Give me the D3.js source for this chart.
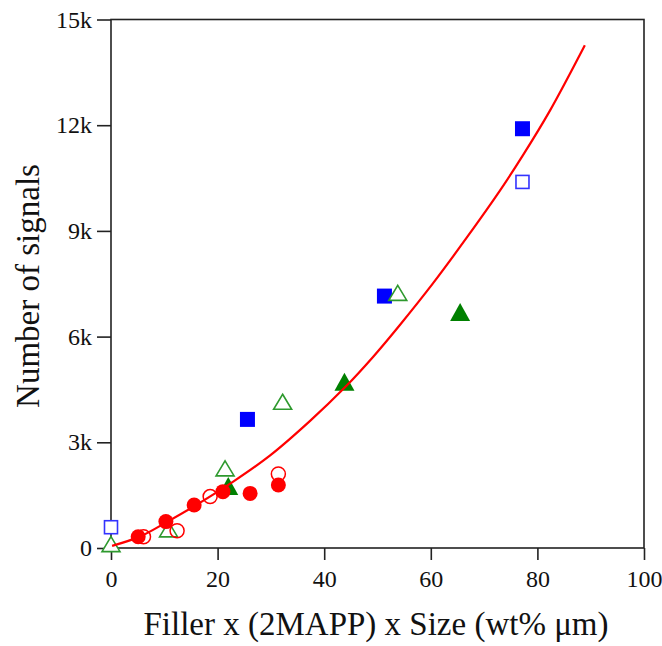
<!DOCTYPE html>
<html>
<head>
<meta charset="utf-8">
<script src="https://cdn.jsdelivr.net/npm/d3@7"></script>
<style>
  body { margin: 0; background: #fff; }
  text { font-family: "Liberation Serif", "Times New Roman", serif; }
</style>
</head>
<body>
<div id="viz"></div>
<script>
// data
var redFilledX = [5.1, 10.3, 15.6, 21.0, 26.1, 31.4];
var redFilledY = [320, 750, 1220, 1600, 1550, 1790];
var redOpenX = [6.1, 12.4, 18.6, 31.4];
var redOpenY = [320, 490, 1460, 2100];
var greenOpenX = [0, 10.8, 21.4, 32.2, 53.8];
var greenOpenY = [110, 530, 2260, 4150, 7240];
var greenFilledX = [22.0, 43.8, 65.5];
var greenFilledY = [1760, 4720, 6700];
var blueFilledX = [25.6, 51.3, 77.2];
var blueFilledY = [3650, 7150, 11900];
var blueOpenX = [0, 77.2];
var blueOpenY = [590, 10390];
var fitX = [0.2, 5.5, 10.5, 16.1, 23.0, 29.8, 37.3, 43.9, 49.2, 54.2, 60.4, 66.7, 73.0, 77.3, 82.3, 88.9];
var fitY = [60, 330, 740, 1230, 1890, 2620, 3600, 4560, 5430, 6330, 7510, 8800, 10150, 11150, 12400, 14270];
var xTicks = [0, 20, 40, 60, 80, 100];
var yTicks = [0, 3000, 6000, 9000, 12000, 15000];
var yTickLabels = ["0", "3k", "6k", "9k", "12k", "15k"];

function zip(xs, ys) { return xs.map(function(d, i) { return {x: d, y: ys[i]}; }); }

var svg = d3.select("#viz")
  .append("svg")
  .attr("width", 662)
  .attr("height", 646);

var x = d3.scaleLinear().domain([0, 100]).range([111, 644]);
var y = d3.scaleLinear().domain([0, 15000]).range([548, 19.5]);

// frame
svg.append("rect")
  .attr("x", x(0)).attr("y", y(15000))
  .attr("width", x(100) - x(0)).attr("height", y(0) - y(15000))
  .style("fill", "none").style("stroke", "#222").style("stroke-width", 1.6);

var xAxis = svg.append("g")
  .attr("transform", "translate(0," + y(0) + ")")
  .call(d3.axisBottom(x).tickValues(xTicks).tickSize(12).tickPadding(10).tickFormat(d3.format("d")));
var yAxis = svg.append("g")
  .attr("transform", "translate(" + x(0) + ",0)")
  .call(d3.axisLeft(y).tickValues(yTicks).tickSize(14).tickPadding(5)
    .tickFormat(function(d, i) { return yTickLabels[i]; }));

[xAxis, yAxis].forEach(function(g) {
  g.select(".domain").remove();
  g.selectAll("line").style("stroke", "#222").style("stroke-width", 1.6);
  g.selectAll("text").style("font-size", "24px").style("fill", "#111")
    .style("font-family", '"Liberation Serif", serif');
});

// axis titles
svg.append("text")
  .attr("x", 376).attr("y", 635)
  .attr("text-anchor", "middle")
  .style("font-size", "33px").style("fill", "#111")
  .text("Filler x (2MAPP) x Size (wt% \u03bcm)");
svg.append("text")
  .attr("transform", "translate(39,286) rotate(-90)")
  .attr("text-anchor", "middle")
  .style("font-size", "33px").style("fill", "#111")
  .text("Number of signals");

var marks = svg.append("g");

// squares
marks.selectAll("rect.bo").data(zip(blueOpenX, blueOpenY)).enter()
  .append("rect")
  .attr("x", function(d) { return x(d.x) - 6.5; })
  .attr("y", function(d) { return y(d.y) - 6.5; })
  .attr("width", 13).attr("height", 13)
  .style("fill", "#fff").style("stroke", "#3333ff").style("stroke-width", 1.6);
marks.selectAll("rect.bf").data(zip(blueFilledX, blueFilledY)).enter()
  .append("rect")
  .attr("x", function(d) { return x(d.x) - 7.5; })
  .attr("y", function(d) { return y(d.y) - 7.5; })
  .attr("width", 15).attr("height", 15)
  .style("fill", "#0000ff");

// triangles (centred on bbox)
function tri(w, h) {
  return "M0," + (-h / 2) + "L" + (w / 2) + "," + (h / 2) + "L" + (-w / 2) + "," + (h / 2) + "Z";
}
marks.selectAll("path.go").data(zip(greenOpenX, greenOpenY)).enter()
  .append("path")
  .attr("d", tri(18, 15))
  .attr("transform", function(d) { return "translate(" + x(d.x) + "," + y(d.y) + ")"; })
  .style("fill", "#fff").style("stroke", "#2e992e").style("stroke-width", 1.6);
marks.selectAll("path.gf").data(zip(greenFilledX, greenFilledY)).enter()
  .append("path")
  .attr("d", tri(20, 18))
  .attr("transform", function(d) { return "translate(" + x(d.x) + "," + y(d.y) + ")"; })
  .style("fill", "#008000");

// circles
marks.selectAll("circle.rf").data(zip(redFilledX, redFilledY)).enter()
  .append("circle")
  .attr("cx", function(d) { return x(d.x); })
  .attr("cy", function(d) { return y(d.y); })
  .attr("r", 7.5)
  .style("fill", "#ff0000");
marks.selectAll("circle.ro").data(zip(redOpenX, redOpenY)).enter()
  .append("circle")
  .attr("cx", function(d) { return x(d.x); })
  .attr("cy", function(d) { return y(d.y); })
  .attr("r", 7)
  .style("fill", "none").style("stroke", "#ff0000").style("stroke-width", 1.5);

// fitted curve on top
var line = d3.line()
  .x(function(d) { return x(d.x); })
  .y(function(d) { return y(d.y); })
  .curve(d3.curveCatmullRom);
svg.append("path")
  .datum(zip(fitX, fitY))
  .attr("d", line)
  .style("fill", "none").style("stroke", "#ff0000").style("stroke-width", 2.2);
</script>
</body>
</html>
